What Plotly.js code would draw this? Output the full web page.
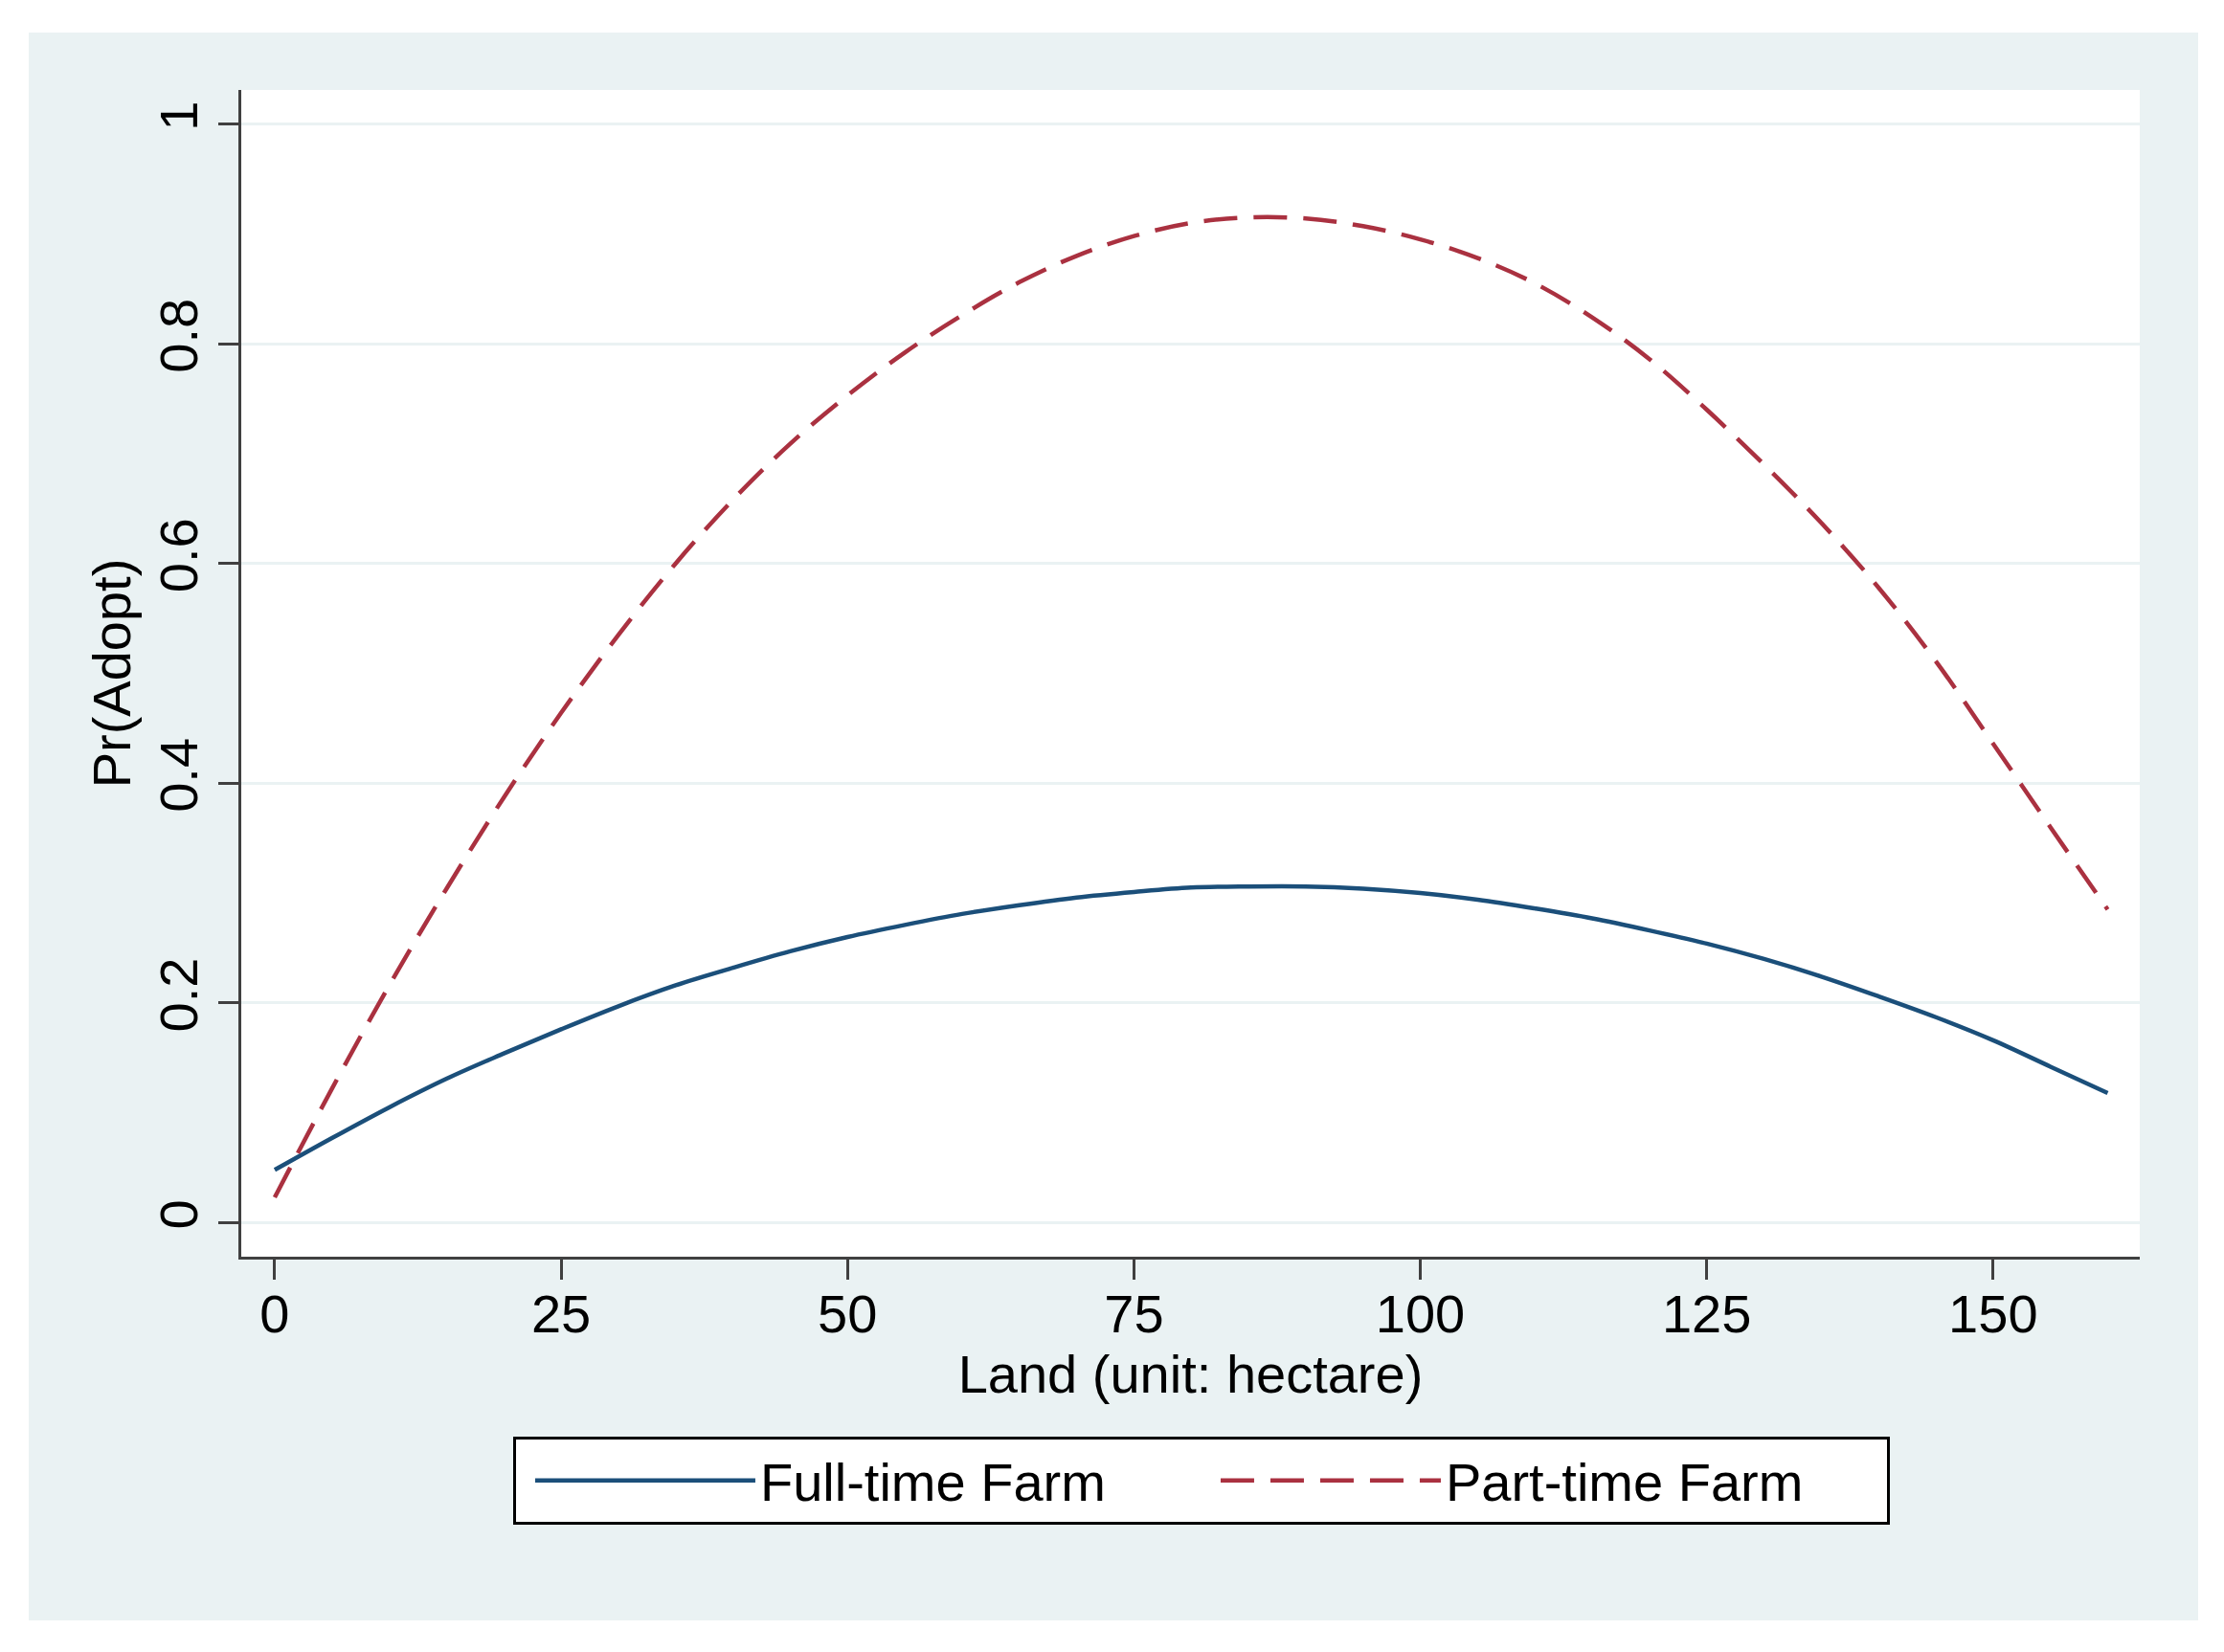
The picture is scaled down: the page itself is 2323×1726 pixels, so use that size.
<!DOCTYPE html>
<html>
<head>
<meta charset="utf-8">
<script src="https://cdn.plot.ly/plotly-3.0.1.min.js"></script>
<style>
  html, body { margin: 0; padding: 0; background: #ffffff; }
  #chart { position: absolute; left: 30px; top: 34px; width: 2266px; height: 1659px; }
</style>
</head>
<body>
<div id="chart"></div>
<script>
// Land (hectare)
const land = [0, 5, 10, 15, 20, 25, 30, 35, 40, 45, 50, 55, 60, 65, 70, 75, 80,
              85, 90, 95, 100, 105, 110, 115, 120, 125, 130, 135, 140, 145, 150, 155, 160];
// Pr(Adopt) – Full-time Farm
const fullTime = [0.048, 0.077, 0.105, 0.131, 0.154, 0.176, 0.197, 0.216, 0.232, 0.247, 0.260, 0.271, 0.281, 0.289, 0.296, 0.301, 0.305,
                  0.306, 0.306, 0.304, 0.300, 0.294, 0.286, 0.277, 0.266, 0.254, 0.240, 0.224, 0.206, 0.187, 0.166, 0.142, 0.118];
// Pr(Adopt) – Part-time Farm
const partTime = [0.023, 0.122, 0.216, 0.304, 0.387, 0.464, 0.535, 0.600, 0.658, 0.709, 0.753, 0.792, 0.826, 0.856, 0.880, 0.898, 0.910,
                  0.915, 0.914, 0.907, 0.895, 0.878, 0.855, 0.824, 0.786, 0.740, 0.690, 0.637, 0.578, 0.511, 0.436, 0.360, 0.285];
const seriesNames = ["Full-time Farm", "Part-time Farm"];
const xTicks = [0, 25, 50, 75, 100, 125, 150];
const yTicks = [0, 0.2, 0.4, 0.6, 0.8, 1];
const yTickLabels = ["0", "0.2", "0.4", "0.6", "0.8", "1"];

const FONT = "Liberation Sans, Arial, Helvetica, sans-serif";
const axisCol = "#404040";

const traces = [
  { x: land, y: fullTime, name: seriesNames[0], type: "scatter", mode: "lines",
    line: { color: "#1B4F7A", width: 4.5, shape: "spline" } },
  { x: land, y: partTime, name: seriesNames[1], type: "scatter", mode: "lines",
    line: { color: "#AA3140", width: 4.5, dash: "35px,17px", shape: "spline" } }
];

const layout = {
  width: 2266, height: 1659,
  paper_bgcolor: "#EAF2F3",
  plot_bgcolor: "#ffffff",
  margin: { l: 222, r: 61, t: 60, b: 380 },
  font: { family: FONT, size: 56, color: "#000000" },
  showlegend: true,
  legend: {
    orientation: "h", x: 0.1432, xanchor: "left", y: -0.154, yanchor: "top",
    bgcolor: "#ffffff", bordercolor: "#000000", borderwidth: 3,
    font: { family: FONT, size: 56, color: "#000000" },
    itemwidth: 230, entrywidth: 456, entrywidthmode: "pixels",
    indentation: 15,
    traceorder: "normal"
  },
  xaxis: {
    range: [-2.92, 162.8],
    tickmode: "array", tickvals: xTicks, ticktext: xTicks.map(String),
    ticks: "outside", ticklen: 21, tickwidth: 3, tickcolor: axisCol,
    ticklabelstandoff: -12,
    showline: true, linecolor: axisCol, linewidth: 3,
    showgrid: false, zeroline: false,
    tickfont: { family: FONT, size: 56, color: "#000000" },
    title: { text: "Land (unit: hectare)", font: { family: FONT, size: 56, color: "#000000" }, standoff: 10 }
  },
  yaxis: {
    range: [-0.031, 1.031],
    tickmode: "array", tickvals: yTicks, ticktext: yTickLabels,
    tickangle: -90,
    ticks: "outside", ticklen: 21, tickwidth: 3, tickcolor: axisCol,
    showline: true, linecolor: axisCol, linewidth: 3,
    showgrid: true, gridcolor: "#EAF2F3", gridwidth: 3,
    zeroline: false,
    tickfont: { family: FONT, size: 56, color: "#000000" },
    title: { text: "Pr(Adopt)", font: { family: FONT, size: 56, color: "#000000" }, standoff: 0 }
  }
};

Plotly.newPlot("chart", traces, layout, { displayModeBar: false, responsive: false });
</script>
</body>
</html>
